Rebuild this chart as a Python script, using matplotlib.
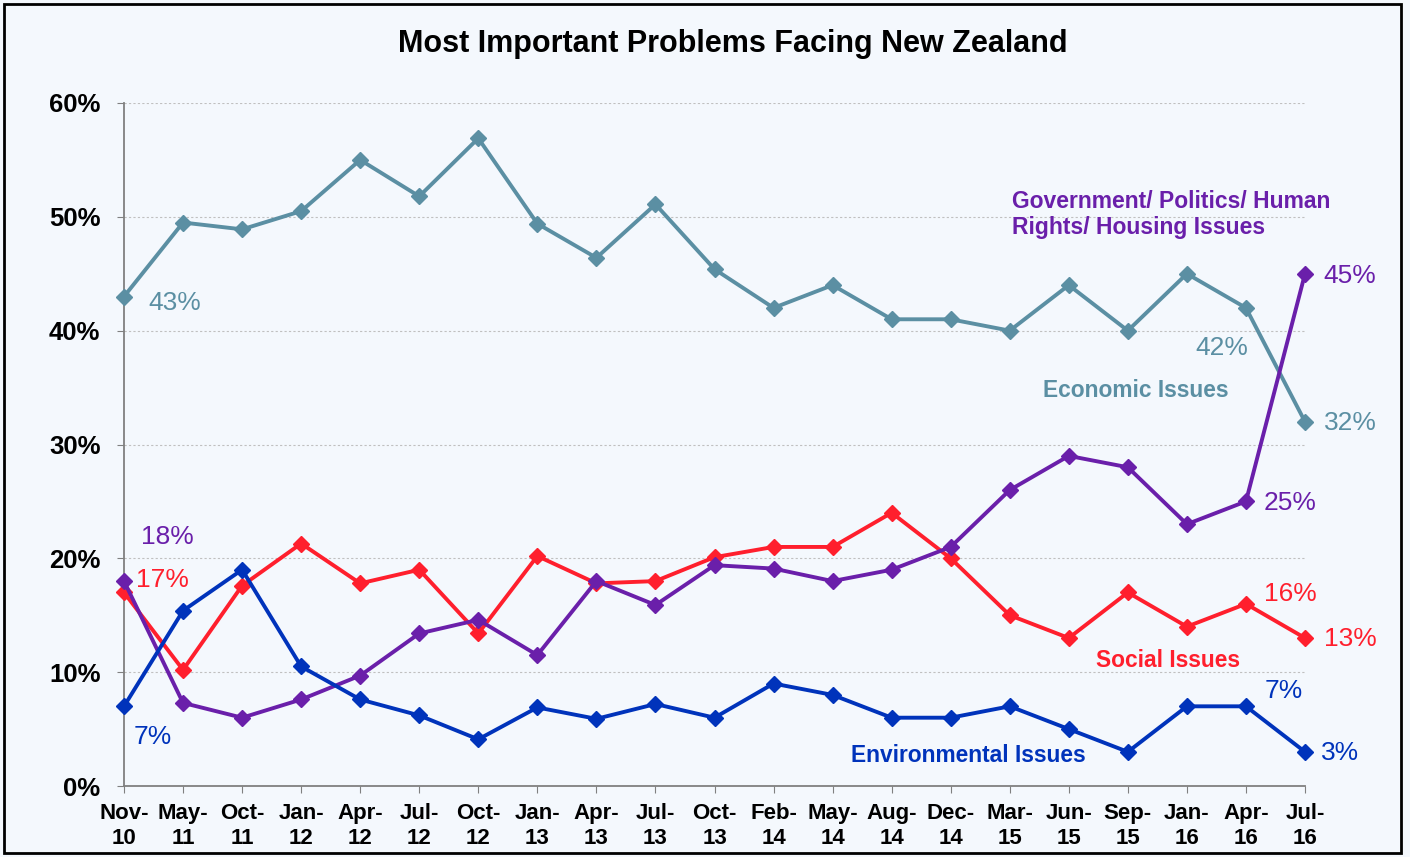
import matplotlib
matplotlib.use("Agg")
import matplotlib.pyplot as plt
from matplotlib.patches import Rectangle
from matplotlib.ticker import FuncFormatter

categories = ["Nov-\n10", "May-\n11", "Oct-\n11", "Jan-\n12", "Apr-\n12", "Jul-\n12", "Oct-\n12",
              "Jan-\n13", "Apr-\n13", "Jul-\n13", "Oct-\n13", "Feb-\n14", "May-\n14", "Aug-\n14",
              "Dec-\n14", "Mar-\n15", "Jun-\n15", "Sep-\n15", "Jan-\n16", "Apr-\n16", "Jul-\n16"]

economic = [43, 49.5, 48.9, 50.5, 55, 51.8, 56.9, 49.4, 46.4, 51.1, 45.4, 42, 44, 41, 41, 40, 44, 40, 45, 42, 32]
government = [18, 7.3, 6.0, 7.6, 9.7, 13.4, 14.6, 11.5, 18, 15.9, 19.4, 19.1, 18, 19, 21, 26, 29, 28, 23, 25, 45]
social = [17, 10.2, 17.6, 21.3, 17.8, 19, 13.4, 20.2, 17.8, 18, 20.1, 21, 21, 24, 20, 15, 13, 17, 14, 16, 13]
environmental = [7, 15.4, 19, 10.5, 7.6, 6.2, 4.1, 6.9, 5.9, 7.2, 6.0, 9, 8, 6, 6, 7, 5, 3, 7, 7, 3]

c_econ = "#5B8FA3"
c_gov = "#6A1FAA"
c_soc = "#FF1F2D"
c_env = "#0033BB"
bg = "#F4F8FD"

plt.rcParams['font.family'] = ['Liberation Sans', 'DejaVu Sans']

fig = plt.figure(figsize=(14.10, 8.57), dpi=100, facecolor=bg)
ax = fig.add_axes([124/1410, 1-786/857, (1305-124)/1410, (786-103)/857])
ax.set_facecolor(bg)

x = list(range(len(categories)))
for vals, col in [(economic, c_econ), (social, c_soc), (government, c_gov), (environmental, c_env)]:
    ax.plot(x, vals, color=col, lw=2.8, marker='D', markersize=8.5, markeredgecolor=col, clip_on=False, zorder=3)

ax.set_xlim(0, 20)
ax.set_ylim(0, 60)
ax.set_yticks([0, 10, 20, 30, 40, 50, 60])
ax.yaxis.set_major_formatter(FuncFormatter(lambda v, p: f"{int(v)}%"))
ax.set_xticks(x)
ax.set_xticklabels(categories, fontsize=16, fontweight='bold', linespacing=1.3)
for lab in ax.get_yticklabels():
    lab.set_fontsize(18.5)
    lab.set_fontweight('bold')
ax.tick_params(axis='x', length=5, color='#808080', pad=7)
ax.tick_params(axis='y', length=5, color='#808080', pad=12)
ax.grid(axis='y', color='#C0C0C0', linestyle=(0, (2, 2)), linewidth=0.8)
ax.set_axisbelow(True)
for s in ['top', 'right']:
    ax.spines[s].set_visible(False)
for s in ['left', 'bottom']:
    ax.spines[s].set_color('#808080')
    ax.spines[s].set_linewidth(1.3)

fig.text(733/1410, 1-44/857, "Most Important Problems Facing New Zealand", ha='center', va='center',
         fontsize=22, fontweight='bold')

def vlabel(i, vals, col, dx, dy):
    ax.annotate(f"{round(vals[i])}%", xy=(i, vals[i]), xytext=(dx, -dy), textcoords='offset pixels',
                ha='center', va='center', color=col, fontsize=19)

vlabel(0, economic, c_econ, 51, 6)
vlabel(0, government, c_gov, 43, -44)
vlabel(0, social, c_soc, 38, -12)
vlabel(0, environmental, c_env, 29, 31)
vlabel(20, government, c_gov, 45, 2)
vlabel(19, economic, c_econ, -24, 40)
vlabel(20, economic, c_econ, 45, 1)
vlabel(19, government, c_gov, 44, 2)
vlabel(19, social, c_soc, 44, -10)
vlabel(20, social, c_soc, 45, 1)
vlabel(19, environmental, c_env, 38, -15)
vlabel(20, environmental, c_env, 35, 1)

ax.text(15.04, 50.2, "Government/ Politics/ Human\nRights/ Housing Issues", ha='left', va='center',
        color=c_gov, fontsize=16.5, fontweight='bold', linespacing=1.15)
ax.text(17.14, 34.7, "Economic Issues", ha='center', va='center', color=c_econ, fontsize=16.4, fontweight='bold')
ax.text(17.68, 11.0, "Social Issues", ha='center', va='center', color=c_soc, fontsize=16.4, fontweight='bold')
ax.text(14.29, 2.7, "Environmental Issues", ha='center', va='center', color=c_env, fontsize=16.4, fontweight='bold')

fig.patches.append(Rectangle((4/1410, 4/857), 1397/1410, 849/857, transform=fig.transFigure,
                             fill=False, edgecolor='black', linewidth=2))

fig.savefig("out.png", dpi=100, facecolor=bg)
